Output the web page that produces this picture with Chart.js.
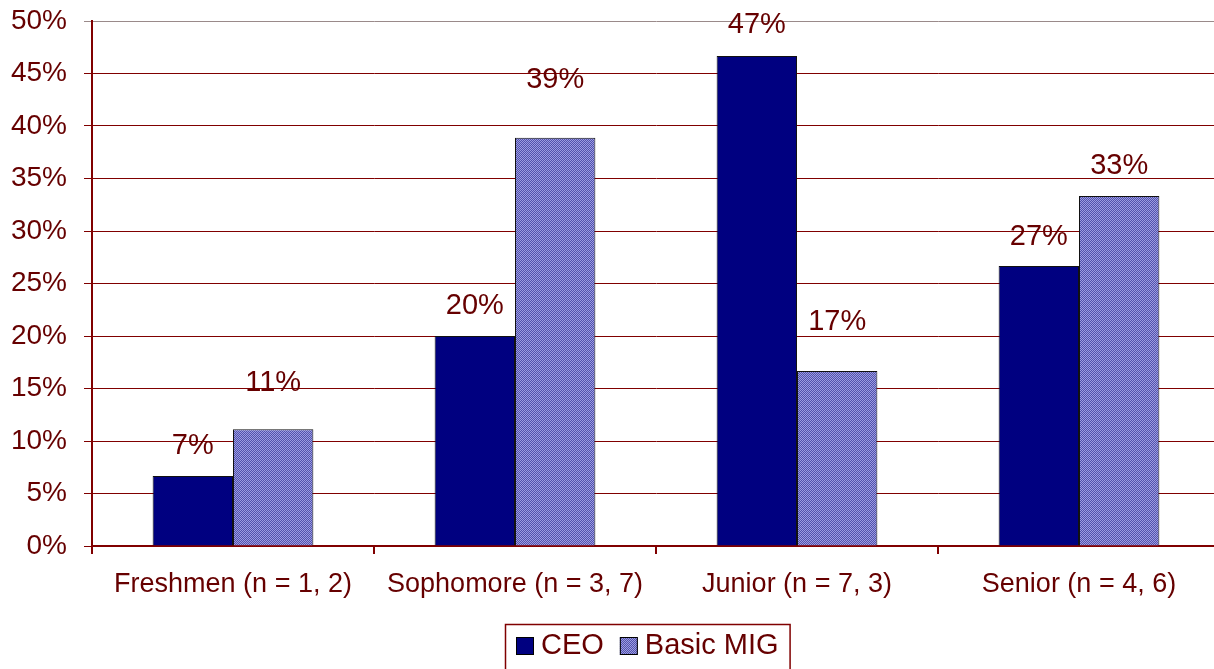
<!DOCTYPE html>
<html>
<head>
<meta charset="utf-8">
<script src="https://cdn.jsdelivr.net/npm/chart.js@4"></script>
<style>
  html, body { margin: 0; padding: 0; background: #fff; overflow: hidden; }
  #wrap { width: 1294px; height: 680px; position: relative; }
</style>
</head>
<body>
<div id="wrap"><canvas id="grafico"></canvas></div>
<script>
// Dados do gráfico
const categorias = ['Freshmen (n = 1, 2)', 'Sophomore (n = 3, 7)', 'Junior (n = 7, 3)', 'Senior (n = 4, 6)'];
const nomesSeries = ['CEO', 'Basic MIG'];
const valoresCEO = [6.67, 20, 46.67, 26.67];
const valoresMIG = [11.11, 38.89, 16.67, 33.33];
const ticksY = [0, 5, 10, 15, 20, 25, 30, 35, 40, 45, 50];

const corTexto = '#660000';
const corGrade = '#800000';
const fonte = "'Liberation Sans', Arial, sans-serif";

// deslocamento vertical dos rótulos (px acima da barra), como no original
const deslocRotulos = [[30, 30, 31, 29], [46, 58, 49, 30]];

// padrão hachurado da série Basic MIG
function criarPadrao() {
  const c = document.createElement('canvas');
  c.width = 4; c.height = 4;
  const g = c.getContext('2d');
  g.fillStyle = '#9c9ce2';
  g.fillRect(0, 0, 4, 4);
  g.fillStyle = '#5252ac';
  for (let i = 0; i < 4; i++) {
    g.fillRect(i, 3 - i, 1, 1);
    g.fillRect((i + 2) % 4, 3 - i, 1, 1);
  }
  return document.createElement('canvas').getContext('2d').createPattern(c, 'repeat');
}

const rotulosPlugin = {
  id: 'rotulos',
  afterDatasetsDraw(chart) {
    const ctx = chart.ctx;
    ctx.save();
    ctx.font = `29px ${fonte}`;
    ctx.fillStyle = corTexto;
    ctx.textAlign = 'center';
    ctx.textBaseline = 'middle';
    chart.data.datasets.forEach((ds, di) => {
      chart.getDatasetMeta(di).data.forEach((bar, i) => {
        const txt = Math.round(ds.data[i]) + '%';
        ctx.fillText(txt, bar.x, bar.y - deslocRotulos[di][i]);
      });
    });
    ctx.restore();
  }
};

const legendaPlugin = {
  id: 'legendaCaixa',
  afterDraw(chart) {
    const ctx = chart.ctx;
    ctx.save();
    ctx.font = `29px ${fonte}`;
    const quad = 18, gapQ = 7, gapItem = 16, padX = 11;
    const larguras = nomesSeries.map(n => ctx.measureText(n).width);
    const total = padX * 2 + larguras.reduce((a, w) => a + quad + gapQ + w, 0) + gapItem;
    const x0 = Math.round(chart.width / 2 - total / 2);
    const y0 = 624;
    ctx.strokeStyle = corGrade;
    ctx.lineWidth = 1.5;
    ctx.strokeRect(x0 + 0.5, y0 + 0.5, total, 52);
    let x = x0 + padX;
    const cy = 646;
    nomesSeries.forEach((n, i) => {
      ctx.fillStyle = chart.data.datasets[i].backgroundColor;
      ctx.fillRect(x, cy - quad / 2, quad, quad);
      ctx.strokeStyle = '#000';
      ctx.lineWidth = 1;
      ctx.strokeRect(x + 0.5, cy - quad / 2 + 0.5, quad - 1, quad - 1);
      x += quad + gapQ;
      ctx.fillStyle = corTexto;
      ctx.textBaseline = 'middle';
      ctx.fillText(n, x, cy);
      x += larguras[i] + gapItem;
    });
    ctx.restore();
  }
};

const padrao = criarPadrao();

new Chart(document.getElementById('grafico'), {
  type: 'bar',
  data: {
    labels: categorias,
    datasets: [
      {
        label: nomesSeries[0],
        data: valoresCEO,
        backgroundColor: '#000080',
        borderColor: '#111111',
        borderWidth: 1,
        categoryPercentage: 0.57,
        barPercentage: 1
      },
      {
        label: nomesSeries[1],
        data: valoresMIG,
        backgroundColor: padrao,
        borderColor: '#111111',
        borderWidth: 1,
        categoryPercentage: 0.57,
        barPercentage: 1
      }
    ]
  },
  options: {
    responsive: true,
    maintainAspectRatio: false,
    animation: false,
    layout: { padding: { top: 21, right: 74, left: 0, bottom: 0 } },
    plugins: {
      legend: { display: false },
      tooltip: { enabled: false }
    },
    scales: {
      x: {
        afterFit: (s) => { s.height = 134; },
        grid: {
          offset: true,
          drawOnChartArea: false,
          drawTicks: true,
          tickLength: 8,
          color: corGrade,
          lineWidth: 2
        },
        border: { color: corGrade, width: 2 },
        ticks: {
          color: corTexto,
          font: { family: fonte, size: 27 },
          padding: 14,
          maxRotation: 0
        }
      },
      y: {
        min: 0,
        max: 50,
        afterFit: (s) => { s.width = 92; s.paddingTop = 0; s.paddingBottom = 0; },
        afterBuildTicks: (s) => { s.ticks = ticksY.map(v => ({ value: v })); },
        grid: {
          tickLength: 8,
          color: (c) => c.tick && c.tick.value === 50 ? '#9a8a8a' : corGrade,
          lineWidth: 1
        },
        border: { color: corGrade, width: 2 },
        ticks: {
          color: corTexto,
          font: { family: fonte, size: 28 },
          padding: 17,
          callback: (v) => v + '%'
        }
      }
    }
  },
  plugins: [rotulosPlugin, legendaPlugin]
});
</script>
</body>
</html>
